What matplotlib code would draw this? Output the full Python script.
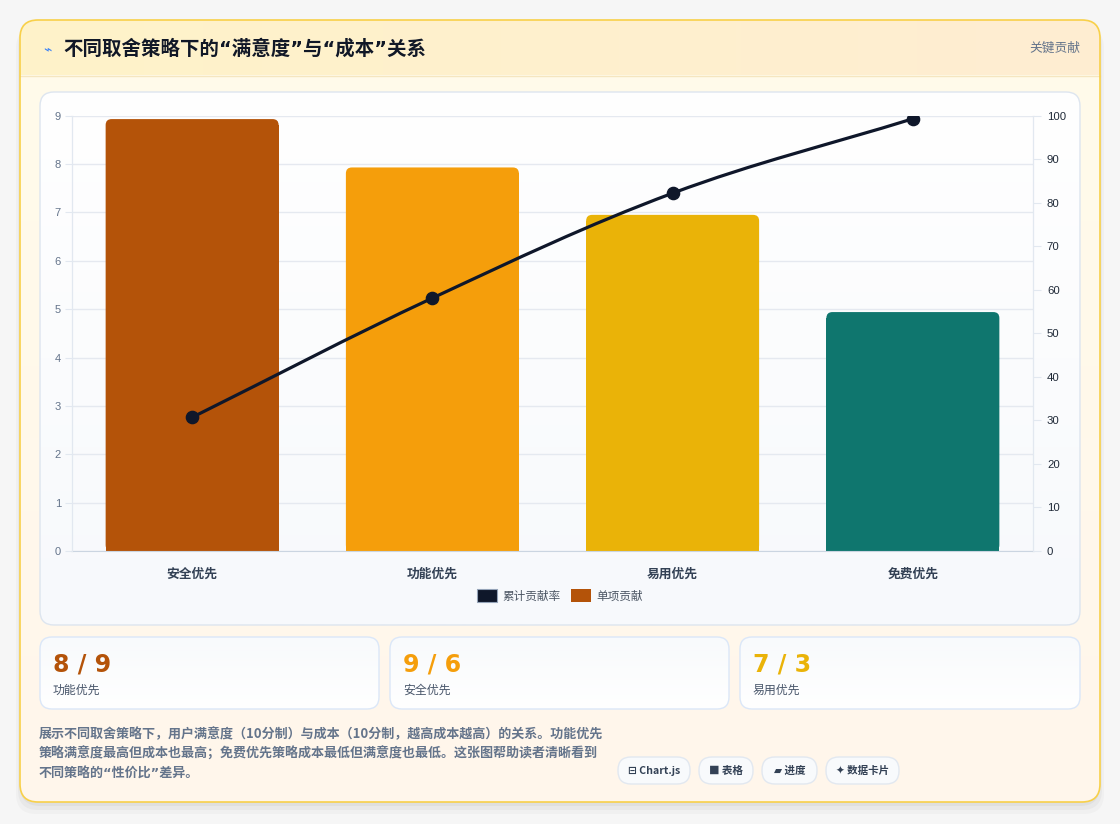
import numpy as np
import matplotlib
matplotlib.use("Agg")
import matplotlib.pyplot as plt
from matplotlib.patches import FancyBboxPatch, Patch, PathPatch
from matplotlib.path import Path
from matplotlib.colors import LinearSegmentedColormap

# ---------------- data ----------------
categories = ["安全优先", "功能优先", "易用优先", "免费优先"]
single_values = [8.93, 7.93, 6.95, 4.94]
cumulative_rate = [30.7, 58.1, 82.2, 99.3]
bar_colors = ["#b45309", "#f59e0b", "#eab308", "#0f766e"]
left_ticks = list(range(0, 10))
right_ticks = list(range(0, 101, 10))
legend_labels = ["累计贡献率", "单项贡献"]
card_values = ["8 / 9", "9 / 6", "7 / 3"]
card_labels = ["功能优先", "安全优先", "易用优先"]
card_colors = ["#b45309", "#f59e0b", "#eab308"]
title = "不同取舍策略下的“满意度”与“成本”关系"
header_right = "关键贡献"
footer_lines = [
    "展示不同取舍策略下，用户满意度（10分制）与成本（10分制，越高成本越高）的关系。功能优先",
    "策略满意度最高但成本也最高；免费优先策略成本最低但满意度也最低。这张图帮助读者清晰看到",
    "不同策略的“性价比”差异。",
]
pills = ["⊟ Chart.js", "■ 表格", "▰ 进度", "✦ 数据卡片"]

CJK = ["Noto Sans CJK SC", "DejaVu Sans"]
LATIN_FIRST = ["DejaVu Sans", "Noto Sans CJK SC"]
plt.rcParams["font.family"] = CJK

W, H = 1120, 824
fig = plt.figure(figsize=(W / 100, H / 100), dpi=100, facecolor="#f6f6f6")

bg = fig.add_axes([0, 0, 1, 1], zorder=0)
bg.set_xlim(0, W)
bg.set_ylim(H, 0)
bg.axis("off")


def rbox(x, y, w, h, r, fc="none", ec="none", lw=1.0, z=1, alpha=1.0):
    p = FancyBboxPatch((x, y), w, h, boxstyle=f"round,pad=0,rounding_size={r}",
                       facecolor=fc, edgecolor=ec, linewidth=lw, zorder=z, alpha=alpha)
    bg.add_patch(p)
    return p


def grad(x, y, w, h, c0, c1, clip, z, vertical=True):
    cmap = LinearSegmentedColormap.from_list("g", [c0, c1])
    if vertical:
        arr = np.linspace(0, 1, 256).reshape(-1, 1)
    else:
        arr = np.linspace(0, 1, 256).reshape(1, -1)
    im = bg.imshow(arr, cmap=cmap, extent=(x, x + w, y + h, y), origin="upper",
                   aspect="auto", zorder=z, interpolation="bilinear")
    im.set_clip_path(clip)
    return im


# shadow
for i, a in enumerate([0.035, 0.03, 0.025]):
    rbox(20 - i * 2, 24 + i * 2, 1080 + i * 4, 782 + i * 2, 20, fc="#000000", z=0.5, alpha=a)

# main card
card = rbox(20, 20, 1080, 782, 18, fc="#fffaf0", ec="none", z=1)
grad(20, 75, 1080, 727, "#fffbea", "#fff6ec", card, 1.1)
grad(20, 20, 1080, 55, "#fef3c9", "#feedd2", card, 1.2, vertical=False)
bg.plot([20, 1100], [75.5, 75.5], color="#f5e6c0", lw=1, zorder=1.3)
rbox(20, 20, 1080, 782, 18, fc="none", ec="#f8d049", lw=1.2, z=1.4)

bg.text(47, 49, "⌁", color="#3b82f6", fontsize=10, ha="center", va="center",
        family=["DejaVu Sans"], zorder=2)
bg.text(63, 48.5, title, color="#111827", fontsize=14, fontweight="bold",
        ha="left", va="center", zorder=2, family=LATIN_FIRST)
bg.text(1080, 48, header_right, color="#64748b", fontsize=9.2, ha="right",
        va="center", zorder=2)

# chart panel
panel = rbox(40, 92, 1040, 533, 14, fc="#ffffff", z=1.5)
grad(40, 92, 1040, 533, "#ffffff", "#f7f9fc", panel, 1.6)
rbox(40, 92, 1040, 533, 14, fc="none", ec="#dde5ef", lw=1, z=1.7)

# stat cards
card_x = [40, 390, 740]
card_w = [339, 339, 340]
for cx, cw, val, lab, col in zip(card_x, card_w, card_values, card_labels, card_colors):
    p = rbox(cx, 637, cw, 72, 12, fc="#ffffff", z=1.5)
    grad(cx, 637, cw, 72, "#f8fafc", "#ffffff", p, 1.6)
    rbox(cx, 637, cw, 72, 12, fc="none", ec="#dbe7f8", lw=1, z=1.7)
    bg.text(cx + 13, 664, val, color=col, fontsize=17, fontweight="bold",
            family=["DejaVu Sans"], ha="left", va="center", zorder=2)
    bg.text(cx + 13, 690, lab, color="#475569", fontsize=8.6, ha="left",
            va="center", zorder=2)

# footer text
for i, line in enumerate(footer_lines):
    fam = LATIN_FIRST if "“" in line else CJK
    bg.text(39, 734 + i * 20, line, color="#64748b", fontsize=9.4, fontweight="bold",
            ha="left", va="center", zorder=2, family=fam)

# pills
pill_x = [618, 699, 762, 826]
pill_w = [72, 54, 55, 73]
for px, pw, lab in zip(pill_x, pill_w, pills):
    rbox(px, 757, pw, 27, 13, fc="#f8fafc", ec="#e2e8f0", lw=1, z=1.8)
    bg.text(px + pw / 2, 770.5, lab, color="#334155", fontsize=7.6, fontweight="bold",
            ha="center", va="center", zorder=2, family=CJK)

# ---------------- main chart ----------------
L, R, T, B = 72, 1033, 115.7, 551
ax = fig.add_axes([L / W, 1 - B / H, (R - L) / W, (B - T) / H], zorder=2)
ax.patch.set_alpha(0)
ax2 = ax.twinx()
ax2.patch.set_alpha(0)

xs = np.arange(len(categories))
ax.set_xlim(-0.5, len(categories) - 0.5)
ax.set_ylim(0, 9)
ax2.set_ylim(0, 100)

bw = 0.72
px_x = (R - L) / len(categories)
px_y = (B - T) / 9
r_px = 6
rx = r_px / px_x
aspect = (1 / px_y) / (1 / px_x)
for x, v, c in zip(xs, single_values, bar_colors):
    ax.bar(x, v - r_px / px_y, width=bw, color=c, zorder=2, linewidth=0)
    fb = FancyBboxPatch((x - bw / 2, 0), bw, v,
                        boxstyle=f"round,pad=0,rounding_size={rx}",
                        mutation_aspect=aspect, facecolor=c, edgecolor="none", zorder=2)
    ax.add_patch(fb)

# spline line (Chart.js style bezier)
px_y2 = (B - T) / 100
P = np.array([[x * px_x, v * px_y2] for x, v in zip(xs, cumulative_rate)])
tension = 0.35
cps = []
n = len(P)
for i in range(n):
    prev = P[max(i - 1, 0)]
    cur = P[i]
    nxt = P[min(i + 1, n - 1)]
    d01 = np.hypot(*(cur - prev))
    d12 = np.hypot(*(nxt - cur))
    tot = d01 + d12
    s01 = d01 / tot if tot else 0
    s12 = d12 / tot if tot else 0
    fa = tension * s01
    fb_ = tension * s12
    cps.append((cur - fa * (nxt - prev), cur + fb_ * (nxt - prev)))
verts = [P[0]]
codes = [Path.MOVETO]
for i in range(n - 1):
    verts += [cps[i][1], cps[i + 1][0], P[i + 1]]
    codes += [Path.CURVE4] * 3
verts = np.array(verts)
verts[:, 0] /= px_x
verts[:, 1] /= px_y2
ax2.add_patch(PathPatch(Path(verts, codes), facecolor="none", edgecolor="#0f172a",
                        lw=2.3, zorder=5, capstyle="round", joinstyle="round"))
ax2.plot(xs, cumulative_rate, linestyle="none", marker="o", markersize=8.8,
         color="#0f172a", zorder=6)

# axes styling
ax.set_yticks(left_ticks)
ax2.set_yticks(right_ticks)
ax.set_xticks(xs)
ax.set_xticklabels(categories, fontsize=9.2, fontweight="bold", color="#334155")
ax.tick_params(axis="x", length=0, pad=12)
ax.tick_params(axis="y", length=5, color="#e2e8f0", pad=3, labelsize=8,
               labelcolor="#64748b")
ax2.tick_params(axis="y", length=6, color="#e2e8f0", pad=4, labelsize=8.2,
                labelcolor="#1f2937")
for lab in ax.get_yticklabels() + ax2.get_yticklabels():
    lab.set_family(["Liberation Sans", "DejaVu Sans"])
ax.grid(axis="y", color="#e5e9f0", lw=1, zorder=0)
ax.set_axisbelow(True)
for a in (ax, ax2):
    a.spines["top"].set_visible(False)
    a.spines["left"].set_color("#e2e8f0")
    a.spines["right"].set_color("#e2e8f0")
    a.spines["bottom"].set_color("#cbd5e1")
ax2.spines["bottom"].set_visible(False)

handles = [Patch(facecolor="#0f172a", edgecolor="#94a3b8", lw=0.8),
           Patch(facecolor=bar_colors[0], edgecolor="none")]
leg = fig.legend(handles, legend_labels, loc="center",
                 bbox_to_anchor=(560 / W, 1 - 596 / H), ncol=2, frameon=False,
                 fontsize=8.4, handlelength=1.75, handleheight=1.25,
                 handletextpad=0.45, columnspacing=0.85, labelcolor="#4b5563")

fig.savefig("out.png", dpi=100, facecolor=fig.get_facecolor())
